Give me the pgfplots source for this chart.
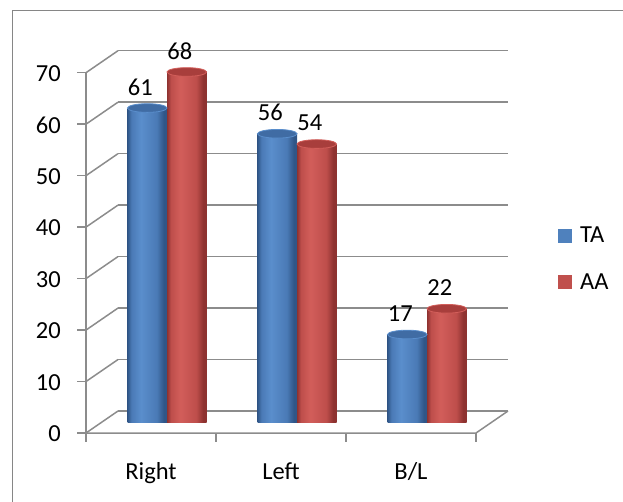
\documentclass[border=0pt]{standalone}
\usepackage{pgfplots}
\pgfplotsset{compat=1.18}
\usepackage{fontspec}
\setmainfont{Carlito}
\usetikzlibrary{calc}
\definecolor{tablue}{RGB}{79,129,189}
\definecolor{tadark}{RGB}{48,86,136}
\definecolor{tamid}{RGB}{74,122,182}
\definecolor{talight}{RGB}{90,142,204}
\definecolor{tacap}{RGB}{64,108,164}
\definecolor{aared}{RGB}{192,80,77}
\definecolor{aadark}{RGB}{142,50,48}
\definecolor{aamid}{RGB}{190,78,75}
\definecolor{aalight}{RGB}{210,94,90}
\definecolor{aacap}{RGB}{168,62,60}
\definecolor{gridgray}{RGB}{140,140,140}
\definecolor{framegray}{RGB}{134,134,134}
\pgfdeclarehorizontalshading{tacyl}{100bp}{color(0bp)=(tadark); color(25bp)=(tadark);
  color(30bp)=(tamid); color(42bp)=(talight); color(62bp)=(tamid); color(71bp)=(tadark);
  color(75bp)=(tadark); color(100bp)=(tadark)}
\pgfdeclarehorizontalshading{aacyl}{100bp}{color(0bp)=(aadark); color(25bp)=(aadark);
  color(30bp)=(aamid); color(42bp)=(aalight); color(62bp)=(aamid); color(71bp)=(aadark);
  color(75bp)=(aadark); color(100bp)=(aadark)}
\tikzset{grid line/.style={gridgray, line width=1.5pt}}
\pgfplotsset{
  ta/.style={draw=none, shading=tacyl,
    bar shift=-19.75pt, nodes near coords,
    every node near coord/.append style={xshift=19.75pt},
    mark=*, mark size=19.75pt,
    mark options={xshift=-19.75pt, yscale=0.22, fill=tacap, draw=talight, line width=0.8pt},
    legend image code/.code={\pgfsetfillcolor{tablue}\pgfpathrectangle{\pgfpoint{0pt}{-6pt}}{\pgfpoint{14pt}{14pt}}\pgfusepath{fill}}},
  aa/.style={draw=none, shading=aacyl,
    bar shift=19.75pt, nodes near coords,
    every node near coord/.append style={xshift=-19.75pt},
    mark=*, mark size=19.75pt,
    mark options={xshift=19.75pt, yscale=0.22, fill=aacap, draw=aalight, line width=0.8pt},
    legend image code/.code={\pgfsetfillcolor{aared}\pgfpathrectangle{\pgfpoint{0pt}{-6pt}}{\pgfpoint{14pt}{14pt}}\pgfusepath{fill}}},
}
\begin{document}
\fontsize{24.5}{29}\selectfont
\begin{tikzpicture}
\draw[framegray, line width=1pt] (12pt,490pt) rectangle (660pt,-30pt);
\begin{axis}[
  scale only axis, width=390pt, height=360.3pt,
  at={(102pt,79pt)}, anchor=south west,
  xmin=-0.5, xmax=2.5, ymin=0, ymax=70,
  clip=false,
  axis line style={draw=none},
  tick style={draw=none},
  xtick={0,1,2}, xticklabels={Right,Left,B/L},
  ytick={0,10,...,70},
  xticklabel style={anchor=base, xshift=-16pt, yshift=-53pt},
  yticklabel style={anchor=east, inner sep=0pt, xshift=-41pt, yshift=-12pt},
  /pgf/number format/assume math mode=true,
  ybar, bar width=39.5pt,
  every node near coord/.append style={anchor=center, yshift=21pt, xshift=-7pt, inner sep=0pt},
  legend style={draw=none, fill=none, at={(1.1692,0.4500)}, anchor=west,
    inner sep=0pt, nodes={inner sep=0pt}, column sep=8pt, row sep=27pt},
  legend cell align=left,
]
\pgfplotsinvokeforeach{0,10,...,70}{
  \draw[grid line] ($(axis cs:-0.5,#1)+(16pt,11pt)$) -- ($(axis cs:2.5,#1)+(16pt,11pt)$);
  \draw[grid line] ($(axis cs:-0.5,#1)+(-16pt,-11pt)$) -- ($(axis cs:-0.5,#1)+(16pt,11pt)$);
  \draw[grid line] ($(axis cs:-0.5,#1)+(-16pt,-11pt)$) -- ++(-9pt,0pt);
}
\draw[grid line] ($(axis cs:-0.5,0)+(-16pt,-11pt)$) -- ($(axis cs:-0.5,70)+(-16pt,-11pt)$);
\draw[grid line] ($(axis cs:-0.5,0)+(-16pt,-11pt)$) -- ($(axis cs:2.5,0)+(-16pt,-11pt)$) -- ($(axis cs:2.5,0)+(16pt,11pt)$);
\pgfplotsinvokeforeach{-0.5,0.5,1.5,2.5}{
  \draw[grid line] ($(axis cs:#1,0)+(-16pt,-11pt)$) -- ++(0pt,-9pt);
}
% TA series (one plot per bar so that each cylinder gets its own shading)
\addplot[ta] coordinates {(0,61)};
\addlegendentry{TA}
\addplot[ta, forget plot] coordinates {(1,56)};
\addplot[ta, forget plot] coordinates {(2,17)};
% AA series
\addplot[aa] coordinates {(0,68)};
\addlegendentry{AA}
\addplot[aa, forget plot] coordinates {(1,54)};
\addplot[aa, forget plot] coordinates {(2,22)};
\end{axis}
\pgfresetboundingbox
\useasboundingbox (0pt,0pt) rectangle (623pt,501pt);
\end{tikzpicture}
\end{document}
